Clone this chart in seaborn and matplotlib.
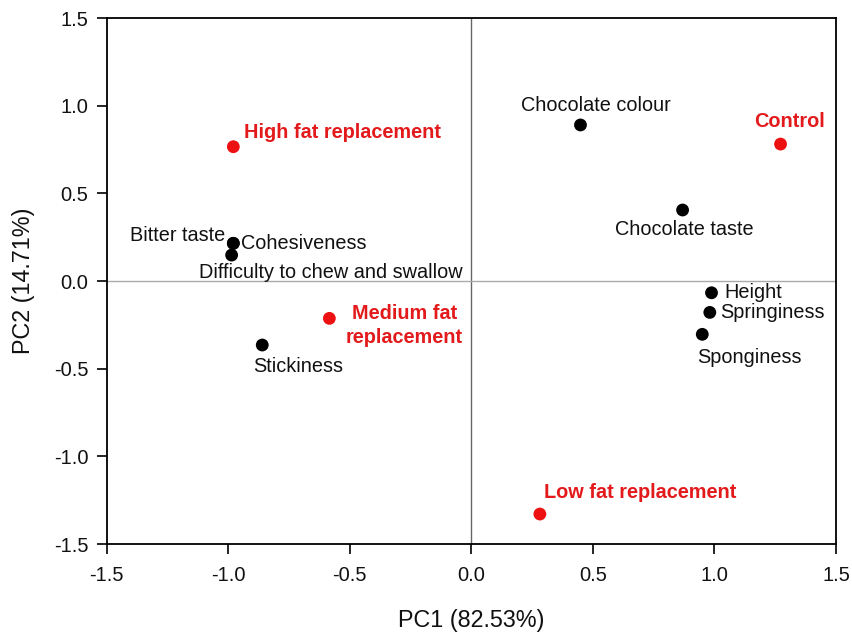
import matplotlib
matplotlib.use("Agg")
import matplotlib.pyplot as plt
import seaborn as sns
import pandas as pd

# Data
labels = ["High fat replacement", "Control", "Medium fat\nreplacement", "Low fat replacement",
          "Chocolate colour", "Chocolate taste", "Bitter taste", "Cohesiveness",
          "Difficulty to chew and swallow", "Stickiness", "Height", "Springiness", "Sponginess"]
pc1 = [-0.979, 1.272, -0.584, 0.282, 0.449, 0.869, -0.979, -0.979, -0.986, -0.860, 0.988, 0.981, 0.950]
pc2 = [0.766, 0.781, -0.213, -1.329, 0.890, 0.405, 0.215, 0.215, 0.148, -0.365, -0.067, -0.179, -0.304]
kind = ["sample"] * 4 + ["attribute"] * 9
x_ticks = [-1.5, -1.0, -0.5, 0.0, 0.5, 1.0, 1.5]
y_ticks = [-1.5, -1.0, -0.5, 0.0, 0.5, 1.0, 1.5]

# label offsets in pixels (dx, dy) and alignment
offsets = [(11, 14, "left"), (9, 23, "center"), (75, -7.5, "center"), (4, 22, "left"),
           (15, 19, "center"), (2, -19, "center"), (-8, 8, "right"), (8, 0, "left"),
           (-33, -17, "left"), (-9, -21, "left"), (13, 0, "left"), (10, 0, "left"),
           (-5, -23, "left")]

sns.set_theme(style="white")
plt.rcParams["font.family"] = ["Liberation Sans", "DejaVu Sans"]

df = pd.DataFrame({"PC1": pc1, "PC2": pc2, "kind": kind, "label": labels})

fig = plt.figure(figsize=(8.52, 6.32), dpi=100)
ax = fig.add_axes([0.1252, 0.1392, 0.856, 0.8323])

ax.axvline(0, color="#666666", lw=1.0, zorder=0)
ax.axhline(0, color="#aaaaaa", lw=1.0, zorder=0)

sns.scatterplot(data=df, x="PC1", y="PC2", hue="kind",
                palette={"sample": "#ee1111", "attribute": "black"},
                s=85, edgecolor="none", legend=False, ax=ax, zorder=3)

for lab, x, y, k, (dx, dy, ha) in zip(labels, pc1, pc2, kind, offsets):
    red = k == "sample"
    ax.annotate(lab, (x, y), xytext=(dx, dy), textcoords="offset pixels",
                ha=ha, va="center", fontsize=14.3,
                fontweight="bold" if red else "normal",
                color="#e31a1c" if red else "#111111",
                multialignment="center", linespacing=1.35)

ax.set_xlim(-1.5, 1.5)
ax.set_ylim(-1.5, 1.5)
ax.set_xticks(x_ticks)
ax.set_yticks(y_ticks)
ax.set_xticklabels([f"{t:.1f}" for t in x_ticks])
ax.set_yticklabels([f"{t:.1f}" for t in y_ticks])
ax.tick_params(axis="x", pad=9)
ax.tick_params(axis="y", pad=6)
ax.tick_params(axis="both", which="major", direction="out", length=7, width=1.2,
               labelsize=14.5, colors="black", labelcolor="#111111",
               bottom=True, left=True, top=False, right=False)
for sp in ax.spines.values():
    sp.set_color("black")
    sp.set_linewidth(1.3)
ax.set_xlabel("PC1 (82.53%)", fontsize=16.8, labelpad=17, color="#111111")
ax.set_ylabel("PC2 (14.71%)", fontsize=16.8, labelpad=14, color="#111111")

fig.savefig("out.png", dpi=100)
